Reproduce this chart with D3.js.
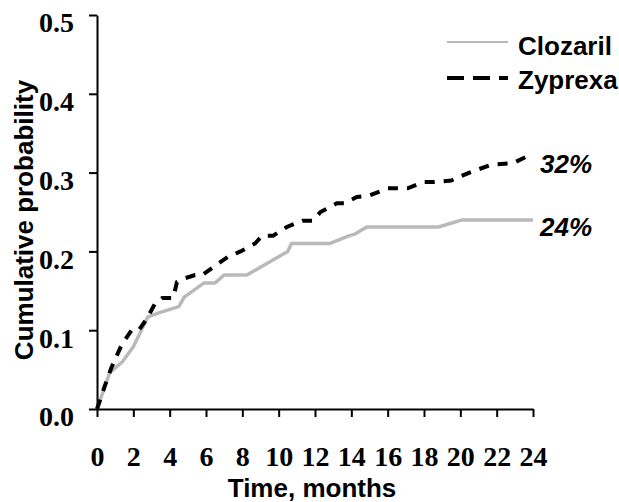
<!DOCTYPE html>
<html>
<head>
<meta charset="utf-8">
<script src="https://cdn.jsdelivr.net/npm/d3@7"></script>
<style>
  body { margin: 0; background: #fff; }
  .tick text { font-family: "Liberation Serif", "Times New Roman", serif; font-weight: bold; }
  .lab { font-family: "Liberation Sans", Arial, sans-serif; font-weight: bold; font-size: 26px; }
</style>
</head>
<body>
<div id="chart"></div>
<script>
// months / cumulative probability
var clozarilT = [0, 0.7, 1.4, 2, 2.8, 3.4, 4.5, 4.8, 5.9, 6.5, 7, 8.25, 10.5, 10.7, 12.8, 13.9, 14.2, 14.85, 18.8, 20.1, 24];
var clozarilP = [0, 0.046, 0.06, 0.079, 0.117, 0.122, 0.13, 0.142, 0.16, 0.16, 0.17, 0.17, 0.2, 0.21, 0.21, 0.22, 0.222, 0.231, 0.231, 0.24, 0.24];

var zyprexaT = [0, 0.44, 0.8, 1.27, 1.4, 1.9, 2.3, 2.7, 3.2, 3.6, 4.2, 4.4, 4.85, 5.4, 5.8, 6.4, 7.2, 7.9, 8.7, 9.1, 9.7, 10.45, 11.3, 11.9, 12.3, 13.2, 13.6, 14.3, 15, 16, 17.1, 17.95, 18.5, 19.5, 20.5, 21.7, 22.9, 23.7, 24];
var zyprexaP = [0, 0.03, 0.053, 0.077, 0.083, 0.1, 0.1, 0.113, 0.134, 0.141, 0.141, 0.161, 0.166, 0.17, 0.17, 0.18, 0.193, 0.2, 0.21, 0.22, 0.22, 0.231, 0.239, 0.239, 0.25, 0.261, 0.261, 0.269, 0.271, 0.28, 0.28, 0.288, 0.288, 0.29, 0.3, 0.31, 0.312, 0.321, 0.321];

var xTicks = [0, 2, 4, 6, 8, 10, 12, 14, 16, 18, 20, 22, 24];
var yTicks = [0, 0.1, 0.2, 0.3, 0.4, 0.5];
var seriesNames = ["Clozaril", "Zyprexa"];
var endLabels = ["24%", "32%"];

var width = 619, height = 502;
var grey = "#b9b9b9";

var svg = d3.select("#chart").append("svg")
  .attr("width", width)
  .attr("height", height);

var x = d3.scaleLinear().domain([0, 24]).range([97, 533]);
var y = d3.scaleLinear().domain([0, 0.5]).range([409, 15]);

// axes
var yAxis = svg.append("g")
  .attr("transform", "translate(" + x(0) + ",0)")
  .call(d3.axisLeft(y).tickValues(yTicks).tickFormat(d3.format(".1f")).tickSize(8).tickSizeOuter(0).tickPadding(15));
yAxis.selectAll("text").attr("font-size", 28).attr("dy", "0.6em").attr("fill", "#000");

var xAxis = svg.append("g")
  .attr("transform", "translate(0," + y(0) + ")")
  .call(d3.axisBottom(x).tickValues(xTicks).tickSize(8).tickSizeOuter(0));
xAxis.selectAll("text").attr("font-size", 28).attr("y", 57).attr("dy", 0).attr("fill", "#000");

svg.selectAll(".domain, .tick line").attr("stroke", "#000").attr("stroke-width", 2);

// lines
function pts(ts, ps) { return ts.map(function(t, i) { return [t, ps[i]]; }); }
var line = d3.line().x(function(d) { return x(d[0]); }).y(function(d) { return y(d[1]); });

svg.append("path")
  .datum(pts(clozarilT, clozarilP))
  .attr("d", line)
  .attr("fill", "none")
  .attr("stroke", grey)
  .attr("stroke-width", 3.5)
  .attr("stroke-linejoin", "round");

svg.append("path")
  .datum(pts(zyprexaT, zyprexaP))
  .attr("d", line)
  .attr("fill", "none")
  .attr("stroke", "#000")
  .attr("stroke-width", 4)
  .attr("stroke-dasharray", "10,9");

// end labels
svg.append("text").attr("class", "lab")
  .attr("x", x(24) + 7).attr("y", y(clozarilP[clozarilP.length - 1]) + 16)
  .attr("font-style", "italic")
  .text(endLabels[0]);
svg.append("text").attr("class", "lab")
  .attr("x", x(24) + 7).attr("y", y(zyprexaP[zyprexaP.length - 1]) + 17)
  .attr("font-style", "italic")
  .text(endLabels[1]);

// legend
svg.append("line").attr("x1", 447).attr("x2", 508).attr("y1", 42).attr("y2", 42)
  .attr("stroke", grey).attr("stroke-width", 2);
svg.append("line").attr("x1", 447).attr("x2", 508).attr("y1", 78).attr("y2", 78)
  .attr("stroke", "#000").attr("stroke-width", 4).attr("stroke-dasharray", "17,9");
svg.append("text").attr("class", "lab").attr("x", 518).attr("y", 55).text(seriesNames[0]);
svg.append("text").attr("class", "lab").attr("x", 518).attr("y", 89).text(seriesNames[1]);

// axis titles
svg.append("text").attr("class", "lab")
  .attr("text-anchor", "middle")
  .attr("transform", "translate(33,220) rotate(-90)")
  .text("Cumulative probability");
svg.append("text").attr("class", "lab")
  .attr("text-anchor", "middle")
  .attr("x", 312).attr("y", 497)
  .text("Time, months");
</script>
</body>
</html>
